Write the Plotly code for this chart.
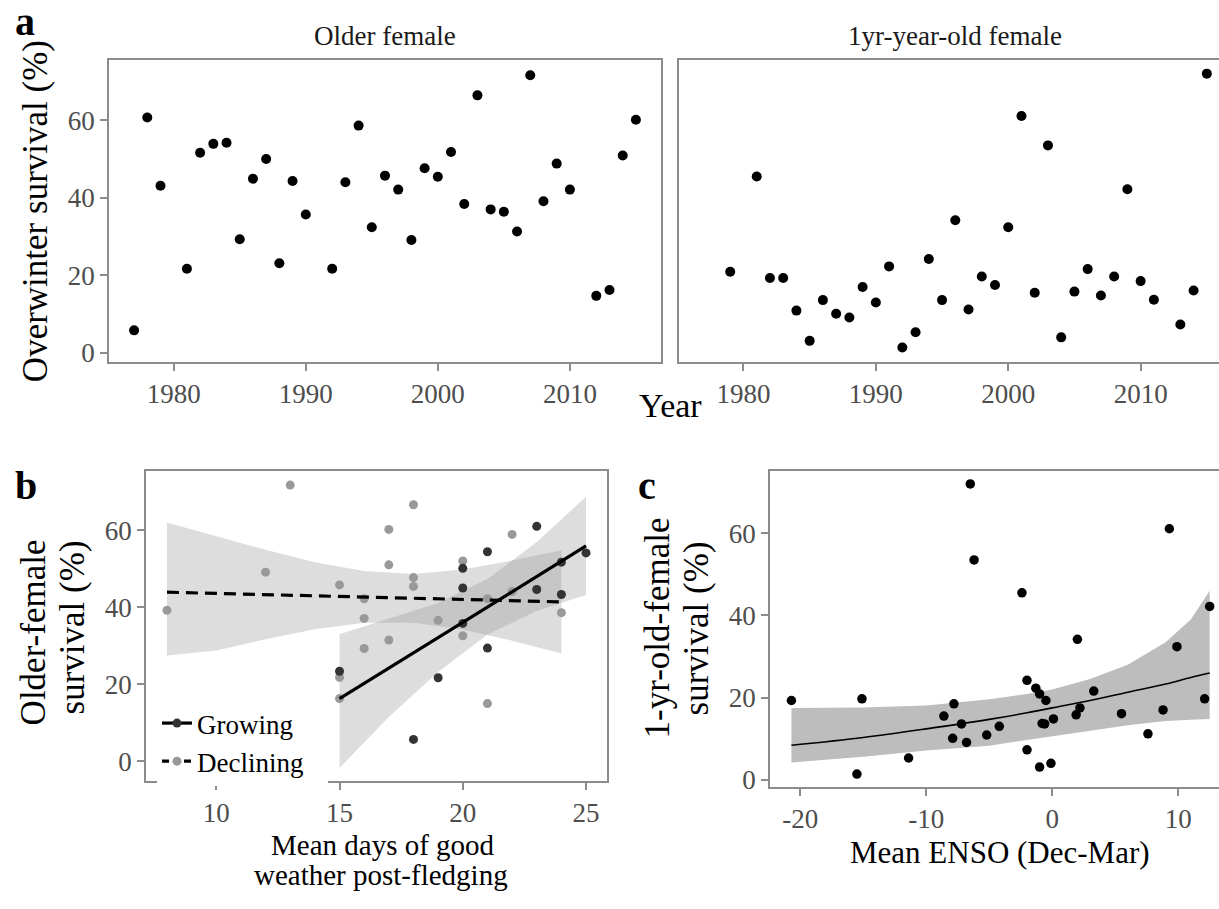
import plotly.graph_objects as go

W, H = 1219, 909
FONT = "Liberation Serif"

# ---------------- data ----------------
older_years = [1977, 1978, 1979, 1981, 1982, 1983, 1984, 1985, 1986, 1987, 1988, 1989, 1990,
               1992, 1993, 1994, 1995, 1996, 1997, 1998, 1999, 2000, 2001, 2002, 2003, 2004,
               2005, 2006, 2007, 2008, 2009, 2010, 2012, 2013, 2014, 2015]
older_surv = [5.8, 60.7, 43.1, 21.7, 51.6, 53.9, 54.2, 29.3, 44.9, 50.0, 23.1, 44.3, 35.7,
              21.7, 44.0, 58.6, 32.4, 45.7, 42.1, 29.1, 47.6, 45.4, 51.8, 38.4, 66.4, 37.0,
              36.4, 31.3, 71.6, 39.1, 48.8, 42.1, 14.7, 16.2, 50.9, 60.1]

yearling_years = [1979, 1981, 1982, 1983, 1984, 1985, 1986, 1987, 1988, 1989, 1990, 1991,
                  1992, 1993, 1994, 1995, 1996, 1997, 1998, 1999, 2000, 2001, 2002, 2003,
                  2004, 2005, 2006, 2007, 2008, 2009, 2010, 2011, 2013, 2014, 2015]
yearling_surv = [20.9, 45.5, 19.3, 19.3, 10.9, 3.1, 13.6, 10.1, 9.1, 17.0, 13.0, 22.3,
                 1.4, 5.3, 24.2, 13.6, 34.2, 11.2, 19.7, 17.5, 32.4, 61.1, 15.5, 53.5,
                 4.0, 15.8, 21.6, 14.8, 19.7, 42.2, 18.5, 13.7, 7.3, 16.1, 72.0]

growing_days = [18, 23, 24, 19, 24, 25, 21, 21, 20, 20, 15, 23, 20]
growing_surv = [5.7, 61.0, 43.3, 21.7, 51.7, 54.1, 54.4, 29.4, 45.0, 50.1, 23.4, 44.6, 35.8]
declining_days = [13, 12, 8, 18, 17, 22, 17, 20, 18, 18, 15, 16, 21, 22, 16, 19, 24, 20, 17,
                  16, 15, 15, 21]
declining_surv = [71.7, 49.1, 39.2, 66.6, 60.2, 58.9, 51.0, 52.0, 47.7, 45.4, 45.8, 42.2, 42.2,
                  44.1, 37.1, 36.6, 38.6, 32.6, 31.5, 29.3, 21.8, 16.3, 15.0]

grow_fit_x = [15, 17, 19, 21, 23, 25]
grow_fit_y = [16.3, 24.2, 32.2, 40.1, 48.0, 55.9]
grow_lo = [-1.7, 11.5, 23.2, 32.9, 39.1, 43.2]
grow_hi = [33.0, 37.0, 41.1, 47.3, 56.9, 68.7]

decl_fit_x = [8, 24]
decl_fit_y = [43.9, 41.4]
decl_band_x = [8, 10, 12, 14, 16, 18, 20, 22, 24]
decl_hi = [62.0, 58.4, 54.9, 51.7, 49.4, 48.6, 49.8, 52.1, 54.8]
decl_lo = [27.5, 28.8, 31.7, 34.3, 36.0, 36.0, 34.2, 31.3, 28.0]

enso_x = [-20.7, -15.5, -15.1, -11.4, -8.6, -7.8, -7.9, -7.2, -6.8, -6.5, -6.2, -5.2, -4.2,
          -2.4, -2.0, -2.0, -1.3, -1.0, -1.0, -0.5, -0.8, 0.1, -0.1, 2.0, 2.2, 1.9, 3.3,
          5.5, 7.6, 8.8, 9.3, 9.9, 12.1, 12.5, -0.6]
enso_surv = [19.3, 1.4, 19.7, 5.3, 15.5, 18.5, 10.1, 13.6, 9.1, 72.0, 53.5, 10.9, 13.0,
             45.5, 24.2, 7.3, 22.3, 20.9, 3.1, 19.3, 13.7, 14.8, 4.0, 34.2, 17.5, 15.8, 21.6,
             16.1, 11.2, 17.0, 61.1, 32.4, 19.7, 42.2, 13.6]

enso_fit_x = [-20.7, -15, -10, -5, -2, 0, 3, 6, 9, 11, 12.5]
enso_fit_y = [8.4, 10.3, 12.4, 14.7, 16.3, 17.5, 19.3, 21.3, 23.3, 24.9, 26.0]
enso_hi = [17.5, 17.6, 18.1, 19.6, 20.9, 22.0, 24.5, 28.0, 33.5, 39.0, 46.0]
enso_lo = [4.2, 5.6, 7.1, 8.3, 9.7, 10.6, 12.0, 13.3, 14.3, 14.6, 14.8]

year_ticks = [1980, 1990, 2000, 2010]
surv_ticks = [0, 20, 40, 60]
days_ticks = [10, 15, 20, 25]
enso_ticks = [-20, -10, 0, 10]
enso_ticktext = ["-20", "-10", "0", "10"]

# ---------------- helpers ----------------
def px(x):
    return x / W

def py(y):
    return 1 - y / H

GRID = "#8c8c8c"
TICKC = "#4d4d4d"

def axis_style(**kw):
    d = dict(showline=True, linecolor=GRID, linewidth=1.5, ticks="outside", ticklen=7,
             tickcolor=GRID, tickwidth=1.5, showgrid=False, zeroline=False,
             tickfont=dict(family=FONT, size=27, color=TICKC), fixedrange=True)
    d.update(kw)
    return d

fig = go.Figure()

# Panel a
fig.add_trace(go.Scatter(x=older_years, y=older_surv, mode="markers",
                         marker=dict(color="black", size=10), xaxis="x", yaxis="y",
                         showlegend=False))
fig.add_trace(go.Scatter(x=yearling_years, y=yearling_surv, mode="markers",
                         marker=dict(color="black", size=10), xaxis="x2", yaxis="y2",
                         showlegend=False))

# Panel b bands
fig.add_trace(go.Scatter(x=decl_band_x + decl_band_x[::-1], y=decl_hi + decl_lo[::-1],
                         fill="toself", fillcolor="rgba(150,150,150,0.32)", line=dict(width=0),
                         mode="lines", xaxis="x3", yaxis="y3", showlegend=False, hoverinfo="skip"))
fig.add_trace(go.Scatter(x=grow_fit_x + grow_fit_x[::-1], y=grow_hi + grow_lo[::-1],
                         fill="toself", fillcolor="rgba(150,150,150,0.32)", line=dict(width=0),
                         mode="lines", xaxis="x3", yaxis="y3", showlegend=False, hoverinfo="skip"))
fig.add_trace(go.Scatter(x=declining_days, y=declining_surv, mode="markers",
                         marker=dict(color="#999999", size=9), xaxis="x3", yaxis="y3",
                         showlegend=False))
fig.add_trace(go.Scatter(x=growing_days, y=growing_surv, mode="markers",
                         marker=dict(color="#333333", size=9), xaxis="x3", yaxis="y3",
                         showlegend=False))
fig.add_trace(go.Scatter(x=decl_fit_x, y=decl_fit_y, mode="lines",
                         line=dict(color="black", width=3.2, dash="12px,7px"),
                         xaxis="x3", yaxis="y3", showlegend=False))
fig.add_trace(go.Scatter(x=grow_fit_x, y=grow_fit_y, mode="lines",
                         line=dict(color="black", width=3.2),
                         xaxis="x3", yaxis="y3", showlegend=False))
# legend entries
fig.add_trace(go.Scatter(x=[None], y=[None], mode="lines+markers", name="Growing",
                         line=dict(color="black", width=3.2),
                         marker=dict(color="#333333", size=9), xaxis="x3", yaxis="y3"))
fig.add_trace(go.Scatter(x=[None], y=[None], mode="lines+markers", name="Declining",
                         line=dict(color="black", width=3.2, dash="7px,4px"),
                         marker=dict(color="#999999", size=9), xaxis="x3", yaxis="y3"))

# Panel c
fig.add_trace(go.Scatter(x=enso_fit_x + enso_fit_x[::-1], y=enso_hi + enso_lo[::-1],
                         fill="toself", fillcolor="#bdbdbd", line=dict(width=0),
                         mode="lines", xaxis="x4", yaxis="y4", showlegend=False, hoverinfo="skip"))
fig.add_trace(go.Scatter(x=enso_fit_x, y=enso_fit_y, mode="lines",
                         line=dict(color="black", width=1.6, shape="spline"),
                         xaxis="x4", yaxis="y4", showlegend=False))
fig.add_trace(go.Scatter(x=enso_x, y=enso_surv, mode="markers",
                         marker=dict(color="black", size=9.5), xaxis="x4", yaxis="y4",
                         showlegend=False))

ya_dom = [py(365), py(61)]
fig.update_layout(
    width=W, height=H, margin=dict(l=0, r=0, t=0, b=0),
    paper_bgcolor="white", plot_bgcolor="white",
    font=dict(family=FONT, color="black"),
    xaxis=axis_style(domain=[px(109), px(661)], range=[1975.1, 2016.9], anchor="y",
                     mirror=True, tickvals=year_ticks),
    yaxis=axis_style(domain=ya_dom, range=[-2.3, 75.4], anchor="x", mirror=True,
                     tickvals=surv_ticks),
    xaxis2=axis_style(domain=[px(679), 1.0], range=[1975.13, 2015.92], anchor="y2",
                      mirror=True, tickvals=year_ticks),
    yaxis2=axis_style(domain=ya_dom, range=[-2.3, 75.4], anchor="x2", mirror=False,
                      ticks="", showticklabels=False),
    xaxis3=axis_style(domain=[px(146), px(607)], range=[7.15, 25.85], anchor="y3",
                      mirror=True, tickvals=days_ticks),
    yaxis3=axis_style(domain=[py(788), py(475)], range=[-5.1, 75.4], anchor="x3",
                      mirror=True, tickvals=surv_ticks),
    xaxis4=axis_style(domain=[px(770), 1.0], range=[-22.4, 13.24], anchor="y4",
                      mirror=True, tickvals=enso_ticks, ticktext=enso_ticktext),
    yaxis4=axis_style(domain=[py(794), py(475)], range=[-1.76, 75.2], anchor="x4",
                      mirror=False, tickvals=surv_ticks),
    legend=dict(x=px(157), y=py(793), xanchor="left", yanchor="bottom",
                bgcolor="white", borderwidth=0, font=dict(family=FONT, size=27, color="black"),
                itemwidth=30, tracegroupgap=0),
    shapes=[dict(type="rect", xref="paper", yref="paper", x0=px(157), x1=px(328),
                 y0=py(793), y1=py(705), fillcolor="white", line=dict(width=0),
                 layer="above")],
)

ann = []
def A(text, x, y, size, angle=0, bold=False, xanchor="center", yanchor="middle", color="black"):
    ann.append(dict(text=("<b>%s</b>" % text) if bold else text, x=px(x), y=py(y),
                    xref="paper", yref="paper", showarrow=False, textangle=angle,
                    xanchor=xanchor, yanchor=yanchor,
                    font=dict(family=FONT, size=size, color=color)))

A("a", 13, 22, 40, bold=True, xanchor="left")
A("b", 13, 490, 40, bold=True, xanchor="left")
A("c", 636, 490, 40, bold=True, xanchor="left")
A("Older female", 385, 36, 27, color="#1a1a1a")
A("1yr-year-old female", 955, 36, 27, color="#1a1a1a")
A("Overwinter survival (%)", 35, 213, 35, angle=-90)
A("Year", 670, 409, 34)
A("Older-female", 33, 638, 35, angle=-90)
A("survival (%)", 72, 633, 35, angle=-90)
A("Mean days of good", 383, 852, 29)
A("weather post-fledging", 381, 883, 29)
A("1-yr-old-female", 657, 634, 35, angle=-90)
A("survival (%)", 696, 634, 35, angle=-90)
A("Mean ENSO (Dec-Mar)", 1000, 860, 31)
fig.update_layout(annotations=ann)

fig.write_html("out.html")
